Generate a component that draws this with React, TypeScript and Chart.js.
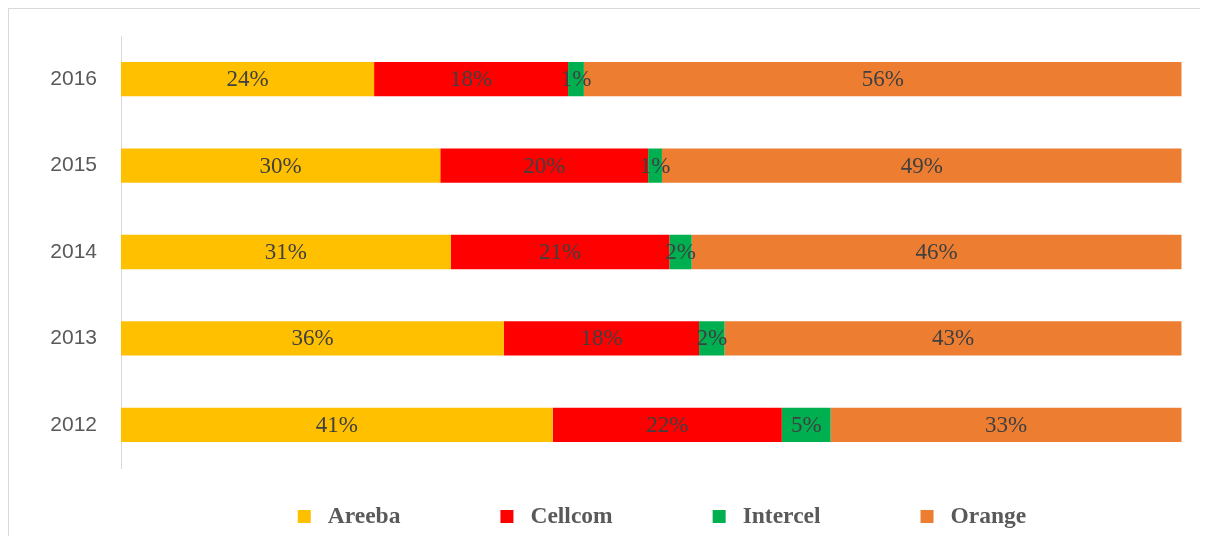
import React, { useEffect, useRef } from "react";
import { Chart, registerables } from "chart.js";

Chart.register(...registerables);

const years = ["2016", "2015", "2014", "2013", "2012"];
const seriesNames = ["Areeba", "Cellcom", "Intercel", "Orange"];
const areeba = [23.86, 30.1, 31.1, 36.1, 40.7];
const cellcom = [18.29, 19.6, 20.6, 18.4, 21.6];
const intercel = [1.49, 1.3, 2.1, 2.4, 4.6];
const orange = [56.36, 49.0, 46.2, 43.1, 33.1];
const colors = ["#FFC000", "#FF0000", "#00B050", "#ED7D31"];

const valueLabels = {
  id: "valueLabels",
  afterDatasetsDraw(chart: any) {
    const ctx = chart.ctx;
    ctx.save();
    ctx.font = '23px "Liberation Serif", "Times New Roman", serif';
    ctx.fillStyle = "#404040";
    ctx.textAlign = "center";
    ctx.textBaseline = "middle";
    chart.data.datasets.forEach((ds: any, i: number) => {
      const meta = chart.getDatasetMeta(i);
      meta.data.forEach((el: any, j: number) => {
        const p = el.getCenterPoint();
        ctx.fillText(Math.round(ds.data[j]) + "%", p.x, p.y + 1);
      });
    });
    ctx.restore();
  },
};

const bottomLegend = {
  id: "bottomLegend",
  afterDraw(chart: any) {
    const ctx = chart.ctx;
    ctx.save();
    ctx.font = 'bold 23.5px "Liberation Serif", "Times New Roman", serif';
    ctx.textBaseline = "middle";
    ctx.textAlign = "left";
    const box = 13;
    const gap = 17;
    const pad = 100;
    const ds = chart.data.datasets;
    const widths = ds.map((d: any) => ctx.measureText(d.label).width);
    const total =
      widths.reduce((a: number, w: number) => a + box + gap + w, 0) + pad * (ds.length - 1);
    let x = 653 - total / 2;
    const cy = 507.5;
    ds.forEach((d: any, i: number) => {
      ctx.fillStyle = d.backgroundColor;
      ctx.fillRect(x, cy - box / 2, box, box);
      ctx.fillStyle = "#595959";
      ctx.fillText(d.label, x + box + gap, cy);
      x += box + gap + widths[i] + pad;
    });
    ctx.restore();
  },
};

export default function App() {
  const ref = useRef<HTMLCanvasElement>(null);
  useEffect(() => {
    document.documentElement.style.overflow = "hidden";
    const seriesData = [areeba, cellcom, intercel, orange];
    const chart = new Chart(ref.current as HTMLCanvasElement, {
      type: "bar",
      data: {
        labels: years,
        datasets: seriesNames.map((name, i) => ({
          label: name,
          data: seriesData[i],
          backgroundColor: colors[i],
          borderWidth: 0,
          categoryPercentage: 1,
          barPercentage: 0.397,
        })),
      },
      options: {
        indexAxis: "y",
        animation: false,
        responsive: false,
        maintainAspectRatio: false,
        layout: { padding: { top: 27, right: 26.3, bottom: 68, left: 0 } },
        plugins: { legend: { display: false }, tooltip: { enabled: false } },
        scales: {
          x: { stacked: true, min: 0, max: 100, display: false },
          y: {
            stacked: true,
            grid: { display: false, drawTicks: false },
            border: { display: true, color: "#d9d9d9", width: 1 },
            ticks: {
              padding: 24,
              color: "#595959",
              font: { family: '"Liberation Sans", Arial, sans-serif', size: 21 },
            },
            afterFit: (s: any) => {
              s.width = 112;
              s.paddingTop = 0;
              s.paddingBottom = 0;
            },
          },
        },
      },
      plugins: [valueLabels, bottomLegend],
    });
    return () => chart.destroy();
  }, []);
  return (
    <div
      style={{
        width: 1212,
        height: 528,
        boxSizing: "border-box",
        borderTop: "1px solid #d9d9d9",
        borderLeft: "1px solid #d9d9d9",
        background: "#fff",
      }}
    >
      <canvas ref={ref} width={1199} height={527} style={{ display: "block" }} />
    </div>
  );
}
